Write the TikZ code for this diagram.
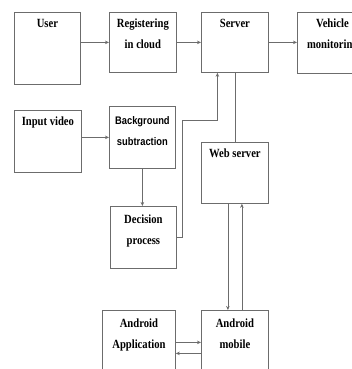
\documentclass[tikz,border=0pt]{standalone}
\usepackage{fontspec}
\setmainfont{Liberation Serif}[FakeStretch=0.85]
\newfontfamily\narrowsans{Liberation Sans}[FakeStretch=0.85]
\usetikzlibrary{arrows.meta}

\begin{document}
\begin{tikzpicture}[x=1pt, y=-1pt,
		box/.style={draw=gray!85!black, line width=0.8pt, anchor=north west, inner sep=0pt},
		txt/.style={anchor=north, inner sep=0pt, yshift=-7pt, align=center,
			font=\fontsize{12.5}{21}\selectfont\bfseries},
		arr/.style={draw=gray!85!black, line width=0.8pt, -{Stealth[length=4pt,width=3.5pt]}},
		lnk/.style={draw=gray!85!black, line width=0.8pt}]
	
	\useasboundingbox (0,0) rectangle (352,369);
	
	% first row
	\node[box, minimum width=66, minimum height=72, label={[txt]north:User}] (user) at (14,12) {};
	\node[box, minimum width=67, minimum height=60, label={[txt]north:Registering\\in cloud}] (reg) at (109,12) {};
	\node[box, minimum width=67, minimum height=60, label={[txt]north:Server}] (srv) at (201,12) {};
	\node[box, minimum width=70, minimum height=61, label={[txt]north:Vehicle\\monitoring}] (veh) at (297,12) {};
	
	% second row
	\node[box, minimum width=67, minimum height=62, label={[txt]north:Input video}] (inp) at (14,110) {};
	\node[box, minimum width=66, minimum height=62,
		label={[txt, font=\fontsize{11}{21}\selectfont\narrowsans\bfseries, yshift=-3pt]north:Background\\subtraction}] (bg) at (109,106) {};
	\node[box, minimum width=67, minimum height=61, label={[txt]north:Web server}] (web) at (201,142) {};
	
	% decision
	\node[box, minimum width=66, minimum height=62, label={[txt, yshift=-2pt]north:Decision\\process}] (dec) at (110,206) {};
	
	% android
	\node[box, minimum width=73, minimum height=64, label={[txt, yshift=-2pt]north:Android\\Application}] (app) at (102,310) {};
	\node[box, minimum width=67, minimum height=64, label={[txt, yshift=-2pt]north:Android\\mobile}] (mob) at (201,310) {};
	
	% connectors of the first row
	\draw[arr] (user.east |- reg.west) -- (reg.west);
	\draw[arr] (reg.east) -- (srv.west);
	\draw[arr] (srv.east) -- (srv.east -| veh.west);
	
	% video chain
	\draw[arr] (inp.east |- bg.west) -- (bg.west);
	\draw[arr] (bg.south) -- (bg.south |- dec.north);
	\coordinate (bend) at (182,120);
	\draw[arr] (dec.east) -| (bend) -| ([xshift=-17.5pt]srv.south);
	
	% server and web server
	\draw[lnk] (srv.south) -- (web.north);
	\draw[arr] ([xshift=-7pt]web.south) -- ([xshift=-7pt]mob.north);
	\draw[arr] ([xshift=7pt]mob.north) -- ([xshift=7pt]web.south);
	
	% application and mobile
	\draw[arr] (app.east) -- (app.east -| mob.west);
	\draw[arr] ([yshift=-11pt]mob.west) -- ([yshift=-11pt]mob.west -| app.east);
	
\end{tikzpicture}
\end{document}
